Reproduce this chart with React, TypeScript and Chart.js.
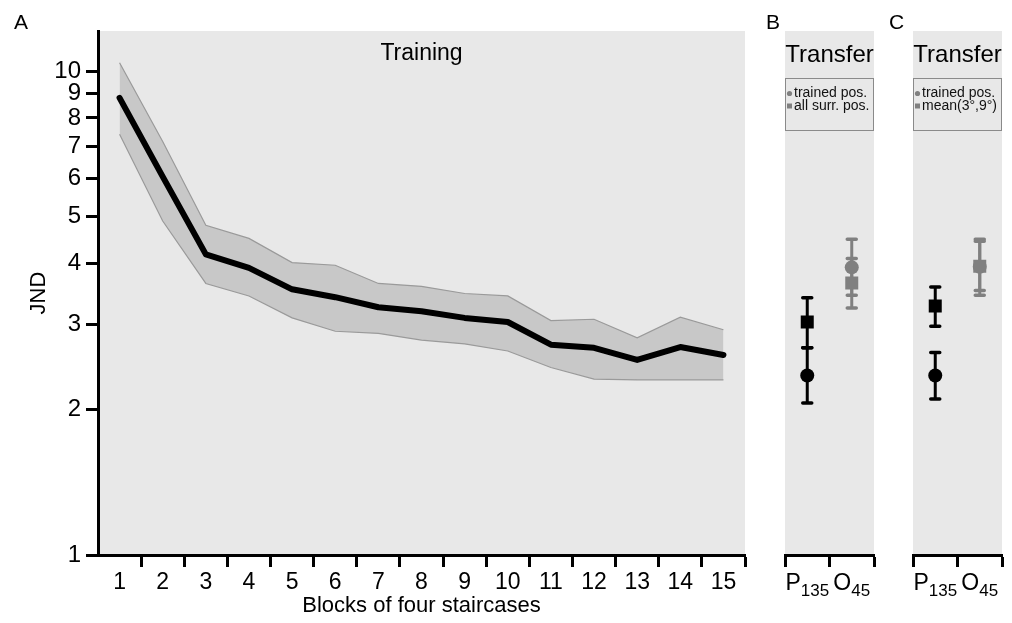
import React, { useEffect, useRef } from 'react';
import { Chart, registerables } from 'chart.js';

Chart.register(...registerables);

const FONT = "'Liberation Sans', Arial, sans-serif";
Chart.defaults.font.family = FONT;

// Training: JND per block of four staircases (mean and confidence band)
const blocks = ['1', '2', '3', '4', '5', '6', '7', '8', '9', '10', '11', '12', '13', '14', '15'];
const jndMean = [8.8, 6.05, 4.18, 3.92, 3.54, 3.41, 3.25, 3.19, 3.09, 3.03, 2.72, 2.68, 2.53, 2.69, 2.59];
const jndUpper = [10.4, 7.15, 4.8, 4.51, 4.02, 3.97, 3.64, 3.59, 3.47, 3.43, 3.05, 3.07, 2.81, 3.1, 2.92];
const jndLower = [7.4, 4.9, 3.64, 3.43, 3.09, 2.9, 2.87, 2.78, 2.73, 2.64, 2.44, 2.31, 2.3, 2.3, 2.3];
const yTicks = [1, 2, 3, 4, 5, 6, 7, 8, 9, 10];
const yMin = 1;
const yMax = 12.1;

// Transfer conditions (letter, subscript)
const transferConds = ['P135', 'O45'];
const condLetters = ['P', 'O'];
const condSubs = ['135', '45'];
const condColors = ['#000000', '#808080'];

// Panel B
const bTrained = [2.35, 3.93];
const bTrainedLo = [2.06, 3.44];
const bTrainedHi = [2.68, 4.49];
const bSurround = [3.03, 3.65];
const bSurroundLo = [2.68, 3.24];
const bSurroundHi = [3.4, 4.1];

// Panel C
const cTrained = [2.35, 3.94];
const cTrainedLo = [2.1, 3.44];
const cTrainedHi = [2.62, 4.49];
const cMean39 = [3.27, 3.95];
const cMean39Lo = [2.97, 3.52];
const cMean39Hi = [3.58, 4.45];

const panelBg = {
  id: 'panelBg',
  beforeDraw(chart: any) {
    const { ctx, chartArea: a } = chart;
    ctx.save();
    ctx.fillStyle = '#e8e8e8';
    ctx.fillRect(a.left, a.top, a.right - a.left, a.bottom - a.top);
    ctx.restore();
  },
};

const panelHeading = {
  id: 'panelHeading',
  afterDraw(chart: any, _args: any, opts: any) {
    const { ctx, chartArea: a } = chart;
    ctx.save();
    ctx.fillStyle = '#000';
    ctx.font = `${opts.size}px ${FONT}`;
    ctx.textAlign = 'center';
    ctx.textBaseline = 'middle';
    ctx.fillText(opts.text, (a.left + a.right) / 2, a.top + opts.offset);
    ctx.restore();
  },
};

const errorBars = {
  id: 'errorBars',
  beforeDatasetsDraw(chart: any) {
    const { ctx } = chart;
    const yScale = chart.scales.y;
    chart.data.datasets.forEach((ds: any, i: number) => {
      if (!ds.errLo) return;
      const meta = chart.getDatasetMeta(i);
      meta.data.forEach((pt: any, j: number) => {
        const x = pt.x;
        const yLo = yScale.getPixelForValue(ds.errLo[j]);
        const yHi = yScale.getPixelForValue(ds.errHi[j]);
        const col = ds.pointBackgroundColor[j];
        ctx.save();
        ctx.strokeStyle = col;
        ctx.lineCap = 'butt';
        ctx.lineWidth = 3;
        ctx.beginPath();
        ctx.moveTo(x, yLo);
        ctx.lineTo(x, yHi);
        ctx.stroke();
        ctx.lineWidth = 3.5;
        ctx.lineCap = 'round';
        ctx.beginPath();
        ctx.moveTo(x - 4.5, yLo);
        ctx.lineTo(x + 4.5, yLo);
        ctx.moveTo(x - 4.5, yHi);
        ctx.lineTo(x + 4.5, yHi);
        ctx.stroke();
        ctx.restore();
      });
    });
  },
};

const condLabels = {
  id: 'condLabels',
  afterDraw(chart: any) {
    const { ctx } = chart;
    const xs = chart.scales.x;
    ctx.save();
    ctx.fillStyle = '#000';
    ctx.textBaseline = 'alphabetic';
    ctx.textAlign = 'left';
    condLetters.forEach((L, i) => {
      const cx = xs.getPixelForValue(i);
      ctx.font = `23px ${FONT}`;
      const wL = ctx.measureText(L).width;
      ctx.font = `17px ${FONT}`;
      const wS = ctx.measureText(condSubs[i]).width;
      const x0 = cx - (wL + wS) / 2;
      ctx.font = `23px ${FONT}`;
      ctx.fillText(L, x0, 590);
      ctx.font = `17px ${FONT}`;
      ctx.fillText(condSubs[i], x0 + wL, 596);
    });
    ctx.restore();
  },
};

const boxLegend = {
  id: 'boxLegend',
  afterDraw(chart: any) {
    const { ctx, chartArea: a } = chart;
    const top = 78.5;
    const bottom = 130.5;
    ctx.save();
    ctx.strokeStyle = '#8a8a8a';
    ctx.lineWidth = 1;
    ctx.strokeRect(a.left + 0.5, top, a.right - a.left - 1, bottom - top);
    ctx.font = `14px ${FONT}`;
    ctx.textBaseline = 'middle';
    ctx.textAlign = 'left';
    chart.data.datasets.forEach((ds: any, i: number) => {
      const y = 93.5 + i * 12.5;
      ctx.fillStyle = '#808080';
      if (ds.pointStyle === 'rect') {
        ctx.fillRect(a.left + 2, y - 2.5, 5, 5);
      } else {
        ctx.beginPath();
        ctx.arc(a.left + 4.5, y, 2.6, 0, Math.PI * 2);
        ctx.fill();
      }
      ctx.fillStyle = '#111';
      ctx.fillText(ds.label, a.left + 9, y);
    });
    ctx.restore();
  },
};

function trainingConfig(): any {
  return {
    type: 'line',
    data: {
      labels: blocks,
      datasets: [
        {
          label: 'upper',
          data: jndUpper,
          borderColor: '#9a9a9a',
          borderWidth: 1.2,
          backgroundColor: '#c8c8c8',
          fill: '+1',
          pointRadius: 0,
          tension: 0,
          order: 2,
        },
        {
          label: 'lower',
          data: jndLower,
          borderColor: '#9a9a9a',
          borderWidth: 1.2,
          backgroundColor: '#c8c8c8',
          fill: false,
          pointRadius: 0,
          tension: 0,
          order: 1,
        },
        {
          label: 'JND',
          data: jndMean,
          borderColor: '#000',
          borderWidth: 6,
          borderCapStyle: 'round',
          borderJoinStyle: 'round',
          fill: false,
          pointRadius: 0,
          tension: 0,
          order: 0,
        },
      ],
    },
    options: {
      animation: false,
      responsive: false,
      layout: { padding: { left: 22, right: 15, top: 31, bottom: 2 } },
      plugins: {
        legend: { display: false },
        tooltip: { enabled: false },
        panelHeading: { text: 'Training', size: 23, offset: 23 },
      },
      scales: {
        x: {
          type: 'category',
          offset: true,
          grid: {
            offset: true,
            drawOnChartArea: false,
            drawTicks: true,
            tickLength: 12,
            tickWidth: 3,
            tickColor: (c: any) => (c.index === 0 ? 'rgba(0,0,0,0)' : '#000'),
          },
          border: { display: true, color: '#000', width: 3 },
          ticks: { color: '#000', font: { size: 23 }, padding: 2, autoSkip: false, maxRotation: 0 },
          title: {
            display: true,
            text: 'Blocks of four staircases',
            color: '#000',
            font: { size: 22 },
            padding: { top: 0, bottom: 2 },
          },
          afterFit: (s: any) => {
            s.height = 66;
          },
        },
        y: {
          type: 'logarithmic',
          min: yMin,
          max: yMax,
          afterBuildTicks: (s: any) => {
            s.ticks = yTicks.map((v) => ({ value: v }));
          },
          grid: {
            drawOnChartArea: false,
            drawTicks: true,
            tickLength: 12,
            tickWidth: 3,
            tickColor: '#000',
          },
          border: { display: true, color: '#000', width: 3 },
          ticks: { color: '#000', font: { size: 24 }, padding: 5, callback: (v: any) => String(v) },
          title: {
            display: true,
            text: 'JND',
            color: '#000',
            font: { size: 22 },
            padding: { top: 4, bottom: 4 },
          },
          afterFit: (s: any) => {
            s.width = 76;
          },
        },
      },
    },
    plugins: [panelBg, panelHeading],
  };
}

function transferConfig(
  trained: number[], trainedLo: number[], trainedHi: number[],
  other: number[], otherLo: number[], otherHi: number[],
  otherLabel: string, padLeft: number, padRight: number,
): any {
  return {
    type: 'line',
    data: {
      labels: transferConds,
      datasets: [
        {
          label: 'trained pos.',
          data: trained,
          errLo: trainedLo,
          errHi: trainedHi,
          showLine: false,
          pointStyle: 'circle',
          pointRadius: 7,
          pointBorderWidth: 0,
          pointBackgroundColor: condColors,
          pointBorderColor: condColors,
          order: 1,
        },
        {
          label: otherLabel,
          data: other,
          errLo: otherLo,
          errHi: otherHi,
          showLine: false,
          pointStyle: 'rect',
          pointRadius: 9.2,
          pointBorderWidth: 0,
          pointBackgroundColor: condColors,
          pointBorderColor: condColors,
          order: 0,
        },
      ],
    },
    options: {
      animation: false,
      responsive: false,
      layout: { padding: { left: padLeft, right: padRight, top: 31, bottom: 2 } },
      plugins: {
        legend: { display: false },
        tooltip: { enabled: false },
        panelHeading: { text: 'Transfer', size: 24, offset: 24 },
      },
      scales: {
        x: {
          type: 'category',
          offset: true,
          grid: {
            offset: true,
            drawOnChartArea: false,
            drawTicks: true,
            tickLength: 12,
            tickWidth: 3,
            tickColor: '#000',
          },
          border: { display: true, color: '#000', width: 3 },
          ticks: { display: false },
          afterFit: (s: any) => {
            s.height = 66;
          },
        },
        y: { type: 'logarithmic', min: yMin, max: yMax, display: false },
      },
    },
    plugins: [panelBg, panelHeading, errorBars, boxLegend, condLabels],
  };
}

function ChartCanvas({ config, left, width }: { config: () => any; left: number; width: number }) {
  const ref = useRef<HTMLCanvasElement | null>(null);
  useEffect(() => {
    if (!ref.current) return;
    const chart = new Chart(ref.current, config());
    return () => chart.destroy();
  }, [config]);
  return (
    <canvas
      ref={ref}
      width={width}
      height={623}
      style={{ position: 'absolute', left, top: 0, width, height: 623, display: 'block' }}
    />
  );
}

const configB = () =>
  transferConfig(bTrained, bTrainedLo, bTrainedHi, bSurround, bSurroundLo, bSurroundHi, 'all surr. pos.', 25, 12);
const configC = () =>
  transferConfig(cTrained, cTrainedLo, cTrainedHi, cMean39, cMean39Lo, cMean39Hi, 'mean(3°,9°)', 27, 10);

const letterStyle: React.CSSProperties = {
  position: 'absolute',
  top: 11,
  font: `21px ${FONT}`,
  color: '#000',
  lineHeight: '22px',
};

export default function App() {
  return (
    <div style={{ position: 'absolute', left: 0, top: 0, width: 1012, height: 623, background: '#fff', overflow: 'hidden' }}>
      <ChartCanvas config={trainingConfig} left={0} width={760} />
      <ChartCanvas config={configB} left={760} width={126} />
      <ChartCanvas config={configC} left={886} width={126} />
      <div style={{ ...letterStyle, left: 14 }}>A</div>
      <div style={{ ...letterStyle, left: 766 }}>B</div>
      <div style={{ ...letterStyle, left: 889 }}>C</div>
    </div>
  );
}
